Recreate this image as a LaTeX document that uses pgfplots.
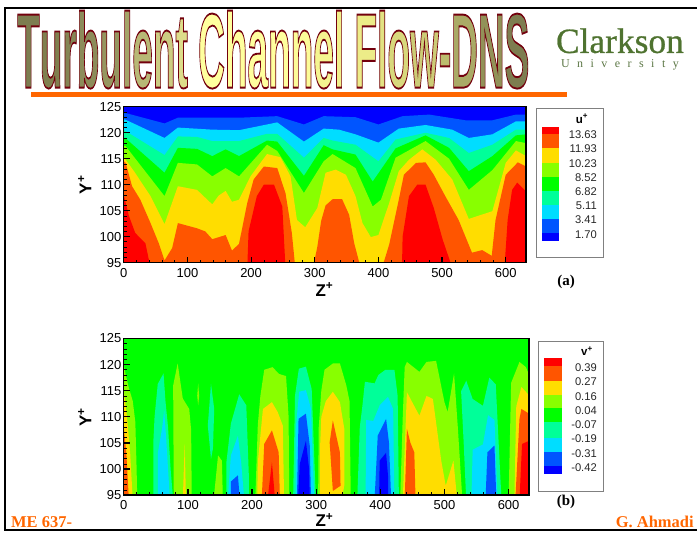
\documentclass[border=0pt]{standalone}
\usepackage{pgfplots}
\pgfplotsset{compat=1.18}
\usepackage{graphicx}
\usepackage{fontspec}
\setmainfont{Liberation Sans}
\newfontfamily\serifb{Liberation Serif}
\newfontfamily\wa{Liberation Sans Bold}[RawFeature={embolden=1.8}]
\newfontfamily\logofont{Liberation Serif}[RawFeature={embolden=0.7}]
\definecolor{cRed}{HTML}{FF0000}
\definecolor{cOrange}{HTML}{FF5500}
\definecolor{cYellow}{HTML}{FFDD00}
\definecolor{cLime}{HTML}{88FF00}
\definecolor{cGreen}{HTML}{00FF00}
\definecolor{cSpring}{HTML}{00FF99}
\definecolor{cCyan}{HTML}{00DDFF}
\definecolor{cBlue}{HTML}{0055FF}
\definecolor{cDark}{HTML}{0000FF}
\definecolor{footer}{HTML}{FF6600}
\definecolor{logo}{HTML}{4F7330}
% one letter of the title: fill colour plus dark red outline
\newcommand\Lt[2]{{\color[HTML]{#1}\special{pdf:code 0.45 0 0.05 RG}#2}}
\pgfplotsset{
  lev/.style={fill=#1,draw=none,forget plot},
  panel/.style={
    scale only axis, anchor=south west, axis on top,
    xmin=0, xmax=632, ymin=95, ymax=125,
    xtick={0,100,...,600}, ytick={95,100,...,125},
    minor x tick num=4, minor y tick num=4,
    tick align=inside, tick pos=left,
    major tick length=6pt, minor tick length=3pt,
    every major tick/.style={black,line width=1.2pt},
    every minor tick/.style={black,line width=0.6pt},
    axis line style={line width=1.3pt},
    /pgf/number format/assume math mode=true,
    tick label style={font=\fontsize{13}{13}\selectfont},
    xticklabel style={yshift=-2pt},
    yticklabel style={xshift=1pt},
    scaled ticks=false,
  },
}
\begin{document}
\begin{tikzpicture}
\path (0pt,0pt) rectangle (698pt,533pt);
% slide frame
\draw[line width=2.4pt] (698pt,525pt) -- (5pt,525pt) -- (5pt,2pt) -- (698pt,2pt);
% heading
\node[anchor=south west,inner sep=0pt] at (17pt,444pt) {\resizebox{513pt}{77pt}{\wa
  \Lt{7D7D50}{T}\Lt{80804F}{u}\Lt{858554}{r}\Lt{8C8C5A}{b}\Lt{969660}{u}\Lt{A5A568}{l}\Lt{B8B876}{e}\Lt{CCCC82}{n}\Lt{DDDD8A}{t}
  \Lt{FFFF9E}{C}\Lt{FFFF9E}{h}\Lt{FFFF9E}{a}\Lt{FFFF9E}{n}\Lt{FCFC98}{n}\Lt{F5F590}{e}\Lt{F0F08C}{l}
  \Lt{ECEC88}{F}\Lt{E2E282}{l}\Lt{D8D87C}{o}\Lt{CCCC76}{w}\Lt{BCBC6E}{-}\Lt{AAAA66}{D}\Lt{929258}{N}\Lt{7D7D50}{S}}};
\fill[footer] (31pt,436pt) rectangle (568pt,441pt);
\node[anchor=base,text=logo,inner sep=0pt] at (621pt,480pt) {\resizebox{128pt}{!}{\fontsize{34}{34}\logofont Clarkson}};
\node[anchor=base,text=logo!75!gray,inner sep=0pt] at (621pt,465pt) {\makebox[118pt]{\fontsize{12}{12}\serifb U\hfill n\hfill i\hfill v\hfill e\hfill r\hfill s\hfill i\hfill t\hfill y}};

% panel (a): u+
\begin{axis}[panel, at={(124pt,270pt)}, width=403pt, height=156pt]
\addplot[lev=cDark] coordinates {(0,94)(0,126)(632,126)(632,94)} --cycle;
\addplot[lev=cBlue] coordinates {(0,94)(0,124)(3,123.8)(64,121.8)(85,122.9)(139,122.9)(181,122.9)(241,123.2)(283,121.6)(314,123.2)(364,123)(400,121.6)(438,123.2)(480,123.5)(537,122.4)(579,122.4)(616,123.5)(632,123.5)(632,94)} --cycle;
\addplot[lev=cCyan] coordinates {(0,94)(0,122.6)(3,122.5)(64,119)(85,121)(139,120.6)(181,120.5)(241,122)(283,118.3)(314,120.8)(338,120.6)(364,119.7)(400,118.1)(432,120.8)(474,121.5)(516,120.6)(542,119)(579,119.7)(616,122.2)(632,122.2)(632,94)} --cycle;
\addplot[lev=cSpring] coordinates {(0,94)(0,120.5)(3,120.3)(64,115.7)(85,119.3)(115,119.2)(139,118.4)(181,118.4)(225,119.8)(241,119.8)(283,115.2)(314,119)(328,118.5)(364,117.7)(400,114.5)(427,118.7)(474,120)(511,119)(542,116.1)(579,117.7)(616,120.6)(632,120.6)(632,94)} --cycle;
\addplot[lev=cGreen] coordinates {(0,94)(0,119)(3,118.9)(64,112.3)(85,117.1)(115,116.9)(139,115.5)(160,116.8)(181,115.5)(225,118.5)(241,118.3)(283,111.7)(314,117.6)(328,116.8)(364,115.8)(391,110.6)(427,117)(474,119.5)(511,117.1)(542,112.6)(579,115.5)(616,119.5)(632,119.7)(632,94)} --cycle;
\addplot[lev=cLime] coordinates {(0,94)(0,117.5)(3,117.4)(64,107.8)(85,114.2)(115,113.9)(139,111.6)(160,113.2)(181,111.6)(225,117.7)(241,116.5)(283,108.4)(314,114.5)(328,115.9)(364,113.2)(391,105.8)(404,107.1)(427,115.2)(474,118.4)(511,115)(542,109)(579,112.8)(616,118.4)(632,118)(632,94)} --cycle;
\addplot[lev=cYellow] coordinates {(0,94)(0,115.3)(16,112.6)(42,107.8)(64,102.4)(85,109.7)(115,109)(139,106.2)(149,107.9)(160,108.8)(170,106.7)(181,107.1)(199,111.6)(225,115.9)(246,115.3)(262,111.6)(272,103.2)(285,101.8)(304,105.5)(317,112.3)(333,112.9)(349,111.9)(364,107.8)(375,102.6)(388,99.9)(400,100.3)(417,106.5)(432,112.6)(448,114.8)(469,116.8)(490,114.8)(516,111)(542,103.4)(579,104.9)(600,114.2)(616,116.6)(632,115.5)(632,94)} --cycle;
\addplot[lev=cOrange] coordinates {(0,94)(0,114.5)(3,114.2)(13,109.7)(26,107.1)(42,102.6)(55,98.7)(64,95.4)(76,97.8)(85,102.6)(115,101.6)(128,101)(139,99.5)(160,100.3)(170,97.3)(181,98.6)(194,106.5)(204,111)(220,113.5)(241,113.2)(254,108.4)(264,100.7)(269,94.5)(298,94.5)(304,98)(310,103)(317,106)(328,107.2)(343,107.2)(354,104.2)(362,98.7)(371,94.5)(407,94.5)(417,98.5)(432,107.1)(440,111.9)(459,114.2)(474,114.3)(487,111.9)(505,107.8)(526,103.2)(547,96.9)(563,97.4)(578,96.3)(584,103.2)(600,111.9)(619,114.3)(632,113.5)(632,94)} --cycle;
\addplot[lev=cRed] coordinates {(0,94)(0,108)(8,104)(18,100.7)(34,98.7)(42,94)} --cycle;
\addplot[lev=cRed] coordinates {(194,94)(196,101)(209,107.8)(220,110)(236,110)(249,105.8)(254,94)} --cycle;
\addplot[lev=cRed] coordinates {(437,94)(438,100)(448,107.8)(461,110)(474,110)(487,105.5)(501,99.4)(516,94)} --cycle;
\addplot[lev=cRed] coordinates {(598,94)(603,103.2)(610,109)(618,110.4)(632,108.7)(632,94)} --cycle;
\end{axis}

% panel (b): v+
\begin{axis}[panel, at={(124pt,37pt)}, width=406pt, height=157pt]
\addplot[lev=cGreen] coordinates {(0,94)(0,126)(632,126)(632,94)} --cycle;
% left edge
\addplot[lev=cLime] coordinates {(0,120)(3,118)(8,115.5)(14,113)(18,109)(20,100)(21,94)(0,94)} --cycle;
\addplot[lev=cYellow] coordinates {(0,115)(5,110)(10,103)(14,94)(0,94)} --cycle;
\addplot[lev=cOrange] coordinates {(0,108)(4,103)(8,94)(0,94)} --cycle;
% z about 60
\addplot[lev=cSpring] coordinates {(46,94)(46,105)(48,110)(53,116.3)(62,118.3)(65,113)(69,108)(73,100)(77,94)} --cycle;
\addplot[lev=cCyan] coordinates {(53,94)(53,103)(60,108)(63,111.2)(66,106)(72,94)} --cycle;
% z about 90
\addplot[lev=cLime] coordinates {(78,94)(77,116)(84,120.2)(92,113.5)(102,111.5)(105,107.5)(106,94)} --cycle;
\addplot[lev=cYellow] coordinates {(92,94)(95,104.8)(97,94)} --cycle;
\addplot[lev=cLime] coordinates {(116,116.4)(117.5,114)(116,112.2)(114.5,114)} --cycle;
% z about 140
\addplot[lev=cSpring] coordinates {(136,116.3)(141,111.5)(139,103.9)(136,101.9)(131,108.3)} --cycle;
\addplot[lev=cLime] coordinates {(140,94)(147,102.6)(153,101.6)(154.5,94)} --cycle;
% z about 180
\addplot[lev=cSpring] coordinates {(160,94)(160,101.3)(167,108.7)(180,114.3)(191,112.2)(195,98.7)(195,94)} --cycle;
\addplot[lev=cCyan] coordinates {(162,94)(167,102.6)(178,106.4)(183,101.3)(188,94)} --cycle;
\addplot[lev=cBlue] coordinates {(167,94)(167,97.6)(178,98.8)(181,94)} --cycle;
% z about 230
\addplot[lev=cLime] coordinates {(205,94)(209,108.5)(213,114)(219,119)(232,119.5)(242,118.2)(253,117.8)(257,110)(258,94)} --cycle;
\addplot[lev=cYellow] coordinates {(208,94)(209,101.3)(217,111.5)(231,112.8)(240,110.9)(248,108.3)(250,94)} --cycle;
\addplot[lev=cOrange] coordinates {(215,94)(219,104.8)(231,107.4)(241.5,103.2)(243.5,94)} --cycle;
\addplot[lev=cRed] coordinates {(224,94)(231,101.3)(236,94)} --cycle;
% z about 280
\addplot[lev=cSpring] coordinates {(264,94)(267,114.1)(273,119.2)(284,119.6)(293,115.3)(299.5,94)} --cycle;
\addplot[lev=cCyan] coordinates {(268,94)(268,107.5)(273.5,114.8)(284,115.1)(292,111.5)(297,94)} --cycle;
\addplot[lev=cBlue] coordinates {(270,94)(272.5,109.6)(284,110.6)(290,104.5)(292,94)} --cycle;
\addplot[lev=cDark] coordinates {(271.5,94)(274.5,101)(284,105.4)(289,100)(290,94)} --cycle;
% z about 330
\addplot[lev=cLime] coordinates {(303,94)(304,108)(308,115)(313,119)(326,120.2)(337,120.2)(347,116)(352,113)(354,94)} --cycle;
\addplot[lev=cYellow] coordinates {(306,94)(306,104)(308,110)(315,113)(326,114.8)(337,112.8)(344,107.6)(344,97)(340,94)} --cycle;
\addplot[lev=cOrange] coordinates {(326,109.3)(337,103.2)(338,96.8)(326,95.8)(321,105.1)} --cycle;
% z about 400
\addplot[lev=cSpring] coordinates {(364,94)(368,108)(372,112)(376,116.7)(391,116.4)(397,118)(408,119)(422,119)(427,114)(429,94)} --cycle;
\addplot[lev=cCyan] coordinates {(377,94)(378,109.4)(389,109.2)(399,112.2)(412,113.8)(420,111.5)(422,94)} --cycle;
\addplot[lev=cBlue] coordinates {(391,94)(396,106.4)(409,109.6)(413.5,105.1)(417,94)} --cycle;
\addplot[lev=cDark] coordinates {(398,94)(399,101.6)(409,103.1)(412,98.7)(412,94)} --cycle;
% z about 480
\addplot[lev=cLime] coordinates {(431,94)(435,110)(438,119.5)(441.5,120.5)(461,118.6)(472,120.5)(487,120.7)(500,112.8)(505,110.9)(515,118.3)(521,107.7)(528,94)} --cycle;
\addplot[lev=cYellow] coordinates {(435,94)(441.5,114.7)(461,110.2)(472,114)(482,113.4)(495,101.6)(502,96.8)(514,101.6)(520,94)} --cycle;
\addplot[lev=cOrange] coordinates {(438,94)(441.5,107.7)(447,105)(453,103.2)(455,94)} --cycle;
% z about 560
\addplot[lev=cSpring] coordinates {(534,94)(530,105)(526,114.9)(534,116.9)(544,113.4)(560,112.1)(570,117.5)(580,116.2)(589,94)} --cycle;
\addplot[lev=cCyan] coordinates {(542,94)(544,103.7)(560,104.7)(568,110.3)(578,109.4)(583,94)} --cycle;
\addplot[lev=cBlue] coordinates {(564,94)(567,103.2)(578,104.5)(581,94)} --cycle;
% right edge
\addplot[lev=cLime] coordinates {(600,94)(604,116.5)(617,120.5)(627,119.5)(632,118)(632,94)} --cycle;
\addplot[lev=cYellow] coordinates {(609,94)(612,112)(620,115.7)(632,114.1)(632,94)} --cycle;
\addplot[lev=cOrange] coordinates {(610.5,94)(617,109.6)(620,111.5)(632,110.6)(632,94)} --cycle;
\addplot[lev=cRed] coordinates {(617,94)(621,104.8)(632,105.4)(632,94)} --cycle;
\end{axis}

% axis titles
\node[rotate=90,inner sep=0pt] at (85pt,348pt) {\fontsize{17}{17}\selectfont\bfseries Y\textsuperscript{+}};
\node[rotate=90,inner sep=0pt] at (85pt,115pt) {\fontsize{17}{17}\selectfont\bfseries Y\textsuperscript{+}};
\node[inner sep=0pt] at (325pt,243pt) {\fontsize{17}{17}\selectfont\bfseries Z\textsuperscript{+}};
\node[inner sep=0pt] at (325pt,12pt) {\fontsize{17}{17}\selectfont\bfseries Z\textsuperscript{+}};

% colour key (a)
\draw[gray,line width=0.7pt] (537pt,275pt) rectangle (604pt,424pt);
\node[inner sep=0pt] at (583pt,414pt) {\fontsize{11.5}{12}\selectfont\bfseries u\textsuperscript{+}};
\foreach \ya/\yb/\c in {406/399/cRed,399/385/cOrange,385/370/cYellow,370/356/cLime,356/342/cGreen,342/328/cSpring,328/314/cCyan,314/300/cBlue,300/292/cDark}
  \fill[\c] (543pt,\ya pt) rectangle (560pt,\yb pt);
\foreach \y/\t in {398/13.63,384/11.93,369/10.23,355/8.52,341/6.82,327/5.11,313/3.41,298/1.70}
  \node[anchor=east,inner sep=0pt,text=black!85] at (598pt,\y pt) {\fontsize{11.2}{11.5}\selectfont \t};

% colour key (b)
\draw[gray,line width=0.7pt] (539pt,41pt) rectangle (604pt,191pt);
\node[inner sep=0pt] at (588pt,181pt) {\fontsize{11.5}{12}\selectfont\bfseries v\textsuperscript{+}};
\foreach \ya/\yb/\c in {174/166/cRed,166/151/cOrange,151/137/cYellow,137/124/cLime,124/110/cGreen,110/94/cSpring,94/80/cCyan,80/66/cBlue,66/58/cDark}
  \fill[\c] (545pt,\ya pt) rectangle (563pt,\yb pt);
\foreach \y/\t in {165/0.39,151/0.27,136/0.16,122/0.04,108/-0.07,94/-0.19,79/-0.31,65/-0.42}
  \node[anchor=east,inner sep=0pt,text=black!85] at (598pt,\y pt) {\fontsize{11.2}{11.5}\selectfont \t};

% panel letters and footer
\node[inner sep=0pt] at (567pt,251pt) {\fontsize{15}{15}\serifb\bfseries (a)};
\node[inner sep=0pt] at (567pt,30pt) {\fontsize{15}{15}\serifb\bfseries (b)};
\node[anchor=base west,text=footer,inner sep=0pt] at (11pt,5pt) {\fontsize{16.5}{16.5}\serifb\bfseries ME 637-};
\node[anchor=base east,text=footer,inner sep=0pt] at (695pt,5pt) {\fontsize{16.5}{16.5}\serifb\bfseries G. Ahmadi};
\end{tikzpicture}
\end{document}
